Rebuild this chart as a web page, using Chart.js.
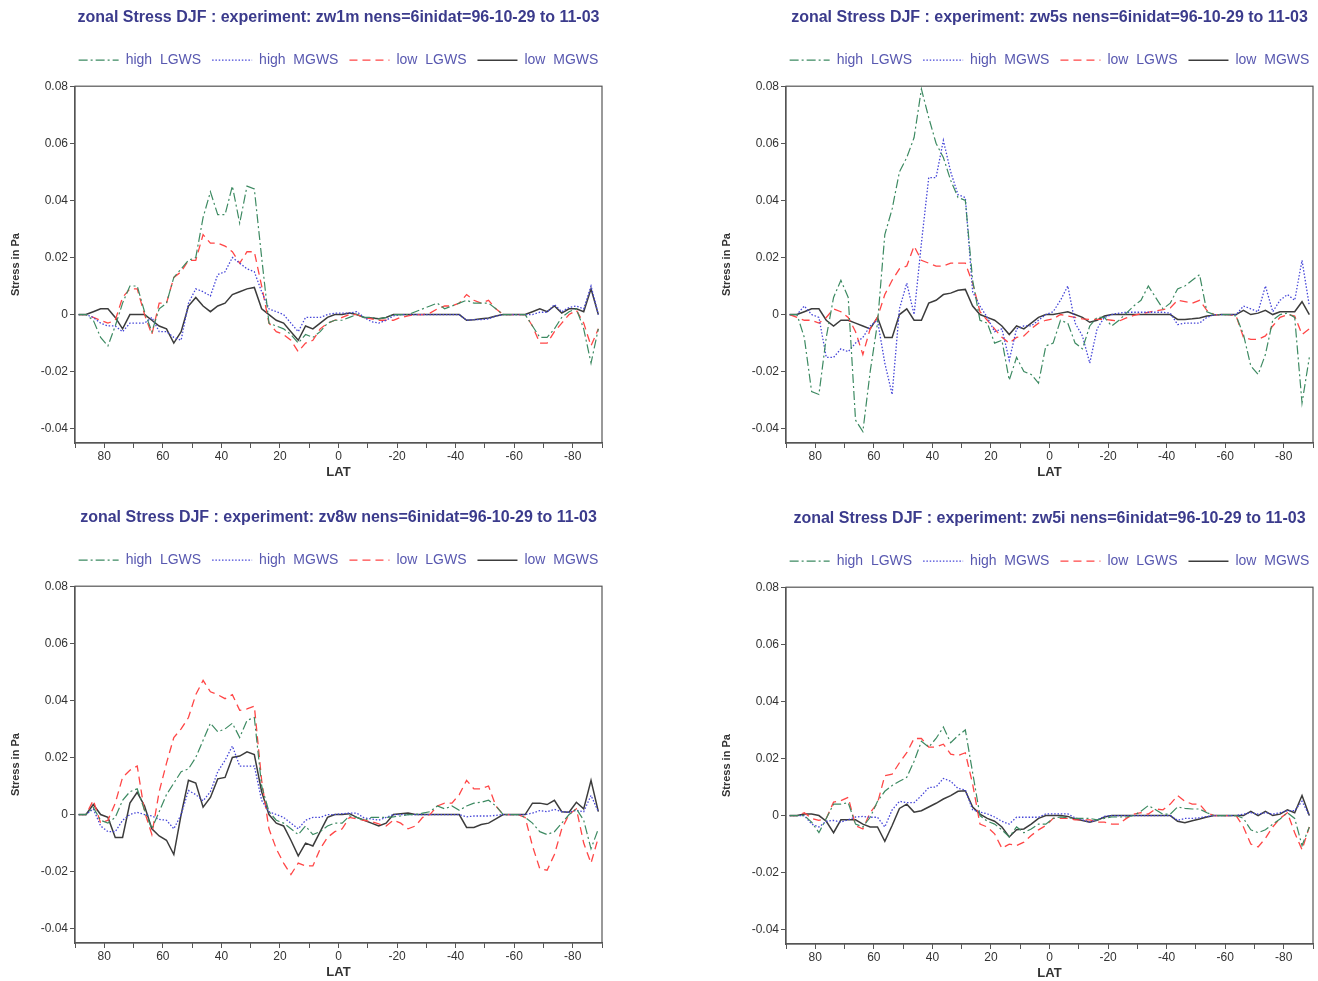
<!DOCTYPE html>
<html>
<head>
<meta charset="utf-8">
<script src="https://cdn.jsdelivr.net/npm/chart.js@4.4.1/dist/chart.umd.min.js"></script>
<style>
html, body { margin: 0; padding: 0; background: #fff; overflow: hidden; width: 1318px; height: 981px; }
.panel { position: absolute; }
</style>
</head>
<body>
<div class="panel" style="left:0;top:0"><canvas id="c1" width="677" height="485"></canvas></div>
<div class="panel" style="left:711px;top:0"><canvas id="c2" width="677" height="485"></canvas></div>
<div class="panel" style="left:0;top:500px"><canvas id="c3" width="677" height="485"></canvas></div>
<div class="panel" style="left:711px;top:501px"><canvas id="c4" width="677" height="485"></canvas></div>
<script>
// latitude grid (north -> south)
const lat = [88.75, 86.25, 83.75, 81.25, 78.75, 76.25, 73.75, 71.25, 68.75, 66.25, 63.75, 61.25,
  58.75, 56.25, 53.75, 51.25, 48.75, 46.25, 43.75, 41.25, 38.75, 36.25, 33.75, 31.25,
  28.75, 26.25, 23.75, 21.25, 18.75, 16.25, 13.75, 11.25, 8.75, 6.25, 3.75, 1.25,
  -1.25, -3.75, -6.25, -8.75, -11.25, -13.75, -16.25, -18.75, -21.25, -23.75, -26.25, -28.75,
  -31.25, -33.75, -36.25, -38.75, -41.25, -43.75, -46.25, -48.75, -51.25, -53.75, -56.25, -58.75,
  -61.25, -63.75, -66.25, -68.75, -71.25, -73.75, -76.25, -78.75, -81.25, -83.75, -86.25, -88.75]

const seriesNames = ['high  LGWS', 'high  MGWS', 'low  LGWS', 'low  MGWS']
const yTicks = [-0.04, -0.02, 0, 0.02, 0.04, 0.06, 0.08]
const xTicks = [90, 80, 70, 60, 50, 40, 30, 20, 10, 0, -10, -20, -30, -40, -50, -60, -70, -80, -90]

// zw1m
const zw1m_highLGWS = [0, 0, -0.002, -0.008, -0.011, -0.004, 0.004, 0.01, 0.01, 0.001, -0.006, 0.002,
  0.004, 0.013, 0.016, 0.019, 0.02, 0.034, 0.043, 0.035, 0.035, 0.045, 0.032, 0.045,
  0.044, 0.02, -0.003, -0.004, -0.005, -0.007, -0.01, -0.007, -0.008, -0.006, -0.003, -0.002,
  -0.002, -0.001, 0, -0.001, -0.001, -0.0015, -0.001, 0, 0, 0, 0.001, 0.002,
  0.003, 0.004, 0.002, 0.003, 0.004, 0.005, 0.004, 0.004, 0.004, 0.002, 0, 0,
  0, 0, -0.004, -0.008, -0.008, -0.005, -0.001, 0.001, 0.002, -0.005, -0.017, -0.005]
const zw1m_highMGWS = [0, 0, -0.001, -0.003, -0.004, -0.004, -0.006, -0.003, -0.003, -0.003, -0.001, -0.006,
  -0.006, -0.008, -0.009, 0.004, 0.009, 0.008, 0.0065, 0.014, 0.015, 0.02, 0.018, 0.016,
  0.015, 0.008, 0.002, 0.001, 0, -0.003, -0.006, -0.001, -0.001, -0.001, 0, 0.0005,
  0.0005, 0.0005, 0.001, -0.001, -0.0025, -0.003, -0.002, -0.0005, 0, 0, 0, 0,
  0, 0, 0, 0, 0, -0.002, -0.0018, -0.0018, -0.0015, -0.0005, 0, 0,
  0, 0, 0, 0.0008, 0.0008, 0.0035, 0.001, 0.0025, 0.003, 0.002, 0.01, 0]
const zw1m_lowLGWS = [0, 0, -0.001, -0.002, -0.003, -0.002, 0.006, 0.009, 0.009, 0, -0.007, 0.004,
  0.004, 0.013, 0.015, 0.019, 0.019, 0.028, 0.025, 0.025, 0.024, 0.022, 0.018, 0.022,
  0.022, 0.01, -0.003, -0.006, -0.007, -0.009, -0.013, -0.01, -0.009, -0.005, -0.003, -0.002,
  -0.001, 0, 0, -0.001, -0.0015, -0.002, -0.002, -0.002, -0.001, -0.0005, 0, 0,
  0.0005, 0.002, 0.003, 0.003, 0.004, 0.007, 0.005, 0.004, 0.005, 0.002, 0, 0,
  0, 0, -0.004, -0.01, -0.01, -0.006, -0.003, 0, 0.0015, -0.003, -0.011, -0.005]
const zw1m_lowMGWS = [0, 0, 0.001, 0.002, 0.002, -0.001, -0.005, 0, 0, 0, -0.002, -0.004,
  -0.005, -0.01, -0.006, 0.003, 0.006, 0.003, 0.001, 0.003, 0.004, 0.007, 0.008, 0.009,
  0.0095, 0.002, 0, -0.002, -0.003, -0.006, -0.009, -0.004, -0.005, -0.003, -0.001, 0,
  0, 0.0005, 0, -0.001, -0.0012, -0.0015, -0.001, 0, 0, 0, 0, 0,
  0, 0, 0, 0, 0, -0.002, -0.0018, -0.0015, -0.0012, -0.0005, 0, 0,
  0, 0, 0.001, 0.002, 0.001, 0.003, 0.0005, 0.002, 0.002, 0.001, 0.009, 0]

// zw5s
const zw5s_highLGWS = [0, 0, -0.008, -0.027, -0.028, -0.008, 0.006, 0.012, 0.006, -0.037, -0.041, -0.02,
  -0.003, 0.028, 0.037, 0.05, 0.055, 0.062, 0.079, 0.069, 0.06, 0.055, 0.047, 0.041,
  0.04, 0.012, -0.002, -0.003, -0.01, -0.009, -0.023, -0.015, -0.02, -0.021, -0.024, -0.011,
  -0.01, -0.002, -0.003, -0.01, -0.012, -0.004, -0.001, -0.001, -0.004, -0.002, 0.0005, 0.003,
  0.005, 0.01, 0.006, 0.002, 0.004, 0.009, 0.01, 0.012, 0.014, 0.001, 0, 0,
  0, -0.0005, -0.007, -0.018, -0.021, -0.014, -0.002, 0, 0.0005, -0.001, -0.031, -0.015]
const zw5s_highMGWS = [0, 0, 0.003, 0, -0.001, -0.015, -0.015, -0.012, -0.013, -0.01, -0.008, -0.004,
  -0.002, -0.017, -0.028, 0.002, 0.011, 0, 0.025, 0.048, 0.048, 0.061, 0.05, 0.042,
  0.041, 0.008, 0.003, -0.001, -0.006, -0.005, -0.016, -0.005, -0.004, -0.004, -0.002, 0,
  0.001, 0.005, 0.01, -0.003, -0.0075, -0.017, -0.005, -0.001, 0, 0.0005, 0.0008, 0.0008,
  0.0008, 0.0008, 0.0008, 0.0008, 0.0005, -0.0035, -0.003, -0.003, -0.003, -0.001, 0, 0,
  0, 0, 0.003, 0.002, 0.001, 0.01, 0.001, 0.005, 0.007, 0.005, 0.019, 0.003]
const zw5s_lowLGWS = [0, -0.001, -0.002, -0.002, -0.003, -0.001, 0.002, 0.001, -0.001, -0.006, -0.014, -0.005,
  -0.001, 0.007, 0.012, 0.016, 0.017, 0.024, 0.019, 0.018, 0.017, 0.017, 0.018, 0.018,
  0.018, 0.011, 0.001, -0.002, -0.005, -0.008, -0.01, -0.008, -0.0075, -0.005, -0.003, -0.002,
  -0.0015, 0, -0.0005, -0.001, -0.0015, -0.0017, -0.0017, -0.0017, -0.002, -0.0023, -0.0012, -0.0003,
  0.0003, 0.0008, 0.0013, 0.0017, 0.0023, 0.005, 0.0045, 0.004, 0.005, 0.0015, 0, 0,
  0, -0.0005, -0.008, -0.0087, -0.0087, -0.0075, -0.004, -0.001, 0, -0.0005, -0.007, -0.005]
const zw5s_lowMGWS = [0, 0, 0.001, 0.002, 0.002, -0.002, -0.004, -0.002, -0.002, -0.003, -0.004, -0.005,
  -0.001, -0.008, -0.008, 0, 0.002, -0.002, -0.002, 0.004, 0.005, 0.007, 0.0075, 0.0085,
  0.0088, 0.003, 0, -0.001, -0.002, -0.004, -0.007, -0.004, -0.005, -0.003, -0.001, 0,
  0, 0.0005, 0.001, 0, -0.001, -0.0027, -0.002, -0.0005, 0, 0, 0, 0,
  0, 0, 0, 0, 0, -0.0017, -0.0017, -0.0015, -0.0012, -0.0005, -0.0002, 0,
  0, 0, 0.0015, 0, 0.0005, 0.0015, 0, 0.001, 0.001, 0.001, 0.0045, 0]

// zv8w
const zv8w_highLGWS = [0, 0, 0.0025, -0.002, -0.003, -0.001, 0.005, 0.008, 0.009, 0.0015, -0.005, 0.001,
  0.007, 0.011, 0.015, 0.016, 0.02, 0.026, 0.032, 0.029, 0.03, 0.032, 0.027, 0.033,
  0.034, 0.01, 0.001, -0.002, -0.003, -0.005, -0.007, -0.004, -0.007, -0.006, -0.004, -0.003,
  -0.003, -0.0005, -0.001, -0.002, -0.001, -0.001, -0.001, -0.0008, -0.0005, 0, 0, 0.0005,
  0.001, 0.003, 0.002, 0.003, 0.0015, 0.003, 0.004, 0.0043, 0.005, 0.003, 0, 0,
  0, -0.001, -0.003, -0.006, -0.007, -0.006, -0.003, 0, 0.002, -0.002, -0.012, -0.005]
const zv8w_highMGWS = [0, 0, 0.002, -0.004, -0.006, -0.006, -0.002, 0, 0.0008, 0, -0.0005, -0.0017,
  -0.002, -0.005, 0, 0.0084, 0.007, 0.0048, 0.008, 0.015, 0.019, 0.024, 0.017, 0.017,
  0.017, 0.005, 0.001, 0, -0.001, -0.003, -0.005, -0.002, -0.001, -0.001, 0, 0,
  0.0003, 0.0005, 0.0005, -0.0012, -0.0015, -0.002, -0.001, 0, 0, 0, 0, 0,
  0, 0, 0, 0, 0, -0.0008, -0.0005, -0.0005, -0.0005, -0.0003, 0, 0,
  0, 0, 0.0005, 0.0014, 0.001, 0.0018, 0.001, 0.0008, 0.0015, 0.001, 0.0067, 0.001]
const zv8w_lowLGWS = [0, 0, 0.005, -0.003, -0.002, 0.004, 0.013, 0.0155, 0.017, 0.001, -0.007, 0.008,
  0.018, 0.027, 0.03, 0.034, 0.042, 0.047, 0.043, 0.042, 0.0406, 0.042, 0.0365, 0.037,
  0.038, 0.012, -0.005, -0.012, -0.017, -0.021, -0.017, -0.018, -0.018, -0.012, -0.008, -0.006,
  -0.005, -0.001, -0.0015, -0.002, -0.0025, -0.0033, -0.004, -0.002, -0.003, -0.005, -0.004, -0.001,
  0, 0.003, 0.004, 0.004, 0.007, 0.012, 0.009, 0.009, 0.01, 0.003, 0, 0,
  0, -0.001, -0.011, -0.019, -0.0195, -0.014, -0.005, 0, 0.002, -0.01, -0.017, -0.008]
const zv8w_lowMGWS = [0, 0, 0.0035, 0, -0.001, -0.008, -0.008, 0.004, 0.0078, 0.003, -0.005, -0.0075,
  -0.009, -0.014, 0, 0.012, 0.011, 0.0026, 0.006, 0.0125, 0.013, 0.02, 0.0205, 0.022,
  0.021, 0.008, 0, -0.003, -0.004, -0.009, -0.0145, -0.01, -0.011, -0.006, -0.001, 0,
  0, 0.0003, -0.001, -0.002, -0.003, -0.004, -0.003, 0, 0.0003, 0.0005, 0, 0,
  0, 0, 0, 0, 0, -0.0045, -0.0045, -0.0035, -0.003, -0.0015, 0, 0,
  0, 0, 0.004, 0.004, 0.0035, 0.005, 0.001, 0.0008, 0.0043, 0.002, 0.012, 0.001]

// zw5i
const zw5i_highLGWS = [0, 0, 0, -0.0023, -0.006, -0.001, 0.004, 0.004, 0.0045, -0.003, -0.004, -0.0006,
  0.005, 0.0085, 0.0105, 0.012, 0.0134, 0.019, 0.026, 0.024, 0.027, 0.031, 0.0255, 0.028,
  0.03, 0.015, 0, -0.002, -0.003, -0.005, -0.0075, -0.004, -0.006, -0.0047, -0.003, -0.003,
  -0.001, -0.0005, -0.0008, -0.001, -0.001, -0.001, -0.0015, -0.001, -0.0005, -0.0005, -0.0005, 0,
  0.0015, 0.0035, 0.002, 0.0005, 0.0005, 0.003, 0.0025, 0.0023, 0.0023, 0.001, 0, 0,
  0, 0, -0.001, -0.005, -0.006, -0.005, -0.003, -0.0012, 0.001, -0.001, -0.0105, -0.004]
const zw5i_highMGWS = [0, 0, 0, -0.003, -0.004, -0.002, -0.0017, -0.0023, -0.0015, -0.0005, -0.0003, -0.0006,
  -0.0006, -0.004, 0.002, 0.005, 0.0045, 0.0045, 0.007, 0.0098, 0.01, 0.013, 0.012, 0.0095,
  0.009, 0.002, 0.0012, 0.0006, -0.0005, -0.002, -0.003, -0.0006, -0.0006, -0.0006, -0.0006, 0.0006,
  0.0006, 0.0006, 0.0006, -0.0008, -0.0015, -0.0023, -0.0015, -0.0003, 0, 0, 0, 0,
  0, 0, 0, 0, 0, -0.0017, -0.001, -0.001, -0.0008, -0.0003, 0, 0,
  0, 0, 0.0005, 0.001, 0.0005, 0.001, 0.0005, 0.001, 0.0017, 0.0017, 0.005, 0]
const zw5i_lowLGWS = [0, 0, 0.001, -0.001, -0.0017, -0.001, 0.0047, 0.0052, 0.0064, -0.0035, -0.0047, 0.001,
  0.0043, 0.014, 0.0145, 0.0185, 0.022, 0.027, 0.027, 0.024, 0.024, 0.025, 0.0215, 0.021,
  0.022, 0.011, -0.003, -0.004, -0.0064, -0.0115, -0.01, -0.0105, -0.0093, -0.007, -0.005, -0.0035,
  -0.001, -0.001, -0.001, -0.0015, -0.0015, -0.0015, -0.0023, -0.0023, -0.003, -0.003, -0.001, 0.0005,
  0.001, 0.0005, 0.0023, 0.002, 0.004, 0.007, 0.005, 0.004, 0.004, 0.001, 0, 0,
  0, 0, -0.004, -0.01, -0.011, -0.008, -0.004, -0.001, 0.001, -0.006, -0.012, -0.004]
const zw5i_lowMGWS = [0, 0, 0.0005, 0.0005, 0, -0.002, -0.006, -0.0015, -0.0015, -0.0015, -0.003, -0.004,
  -0.004, -0.009, -0.0035, 0.0025, 0.004, 0.0012, 0.0017, 0.003, 0.0043, 0.0058, 0.007, 0.0085,
  0.0087, 0.003, 0.0005, -0.001, -0.002, -0.004, -0.0075, -0.005, -0.0047, -0.003, -0.001, 0,
  0, 0, -0.0003, -0.0012, -0.0017, -0.0023, -0.0017, -0.0005, 0, 0, 0, 0,
  0, 0, 0, 0, 0, -0.002, -0.0025, -0.0018, -0.0012, -0.0005, 0, 0,
  0, 0, 0, 0.0015, 0, 0.0015, 0, 0.0005, 0.002, 0.001, 0.007, 0]

Chart.defaults.font.family = '"Liberation Sans", Arial, sans-serif'

const lineStyles = [
  { color: '#3d8a62', dash: [9, 3, 2, 3], width: 1.2 },
  { color: '#4545d8', dash: [1.5, 1.8], width: 1.3 },
  { color: '#ff4646', dash: [8, 5], width: 1.3 },
  { color: '#3c3c3c', dash: [], width: 1.5 }
]

const frame = {
  id: 'frame',
  afterDraw(chart) {
    const { ctx, chartArea: a } = chart
    ctx.save()
    ctx.strokeStyle = '#555'
    ctx.lineWidth = 1.2
    ctx.strokeRect(a.left, a.top, a.right - a.left, a.bottom - a.top)
    ctx.restore()
  }
}

// legend entries show each series' own dash pattern
const legendLabels = (chart) => {
  const items = Chart.defaults.plugins.legend.labels.generateLabels(chart)
  items.forEach((item) => {
    const ds = chart.data.datasets[item.datasetIndex]
    item.lineDash = ds.borderDash
    item.strokeStyle = ds.borderColor
    item.lineWidth = ds.borderWidth
    item.pointStyle = 'line'
  })
  return items
}

function makePanel(id, expName, series) {
  const datasets = series.map((vals, i) => ({
    label: seriesNames[i],
    data: lat.map((x, k) => ({ x, y: vals[k] })),
    borderColor: lineStyles[i].color,
    borderDash: lineStyles[i].dash,
    borderWidth: lineStyles[i].width,
    pointRadius: 0,
    tension: 0,
    fill: false
  }))
  return new Chart(document.getElementById(id), {
    type: 'line',
    data: { datasets },
    plugins: [frame],
    options: {
      responsive: false,
      animation: false,
      layout: { padding: 0 },
      plugins: {
        title: {
          display: true,
          text: 'zonal Stress DJF : experiment: ' + expName + ' nens=6inidat=96-10-29 to 11-03',
          color: '#3b3b8c',
          font: { size: 16, weight: 'bold' },
          padding: { top: 8, bottom: 15 }
        },
        legend: {
          labels: {
            usePointStyle: true,
            pointStyle: 'line',
            pointStyleWidth: 40,
            color: '#5858b0',
            font: { size: 14 },
            padding: 11,
            generateLabels: legendLabels
          }
        },
        tooltip: { enabled: false }
      },
      scales: {
        x: {
          type: 'linear',
          reverse: true,
          min: -90,
          max: 90,
          afterBuildTicks: s => { s.ticks = xTicks.map(v => ({ value: v })) },
          afterFit: s => { s.height = 42 },
          ticks: {
            autoSkip: false,
            maxRotation: 0,
            padding: 1,
            color: '#333',
            font: { size: 12 },
            callback: v => (v % 20 === 0 && Math.abs(v) < 90) ? String(v) : ''
          },
          grid: { drawOnChartArea: false, tickLength: 5, color: '#555' },
          border: { color: '#555', width: 1.2 },
          title: { display: true, text: 'LAT', color: '#333', font: { size: 13, weight: 'bold' }, padding: { top: 0, bottom: 5 } }
        },
        y: {
          min: -0.045,
          max: 0.08,
          afterBuildTicks: s => { s.ticks = yTicks.map(v => ({ value: v })) },
          afterFit: s => { s.width = 75 },
          ticks: {
            padding: 2,
            color: '#333',
            font: { size: 12 },
            callback: v => v === 0 ? '0' : v.toFixed(2)
          },
          grid: { drawOnChartArea: false, tickLength: 5, color: '#555' },
          border: { color: '#555', width: 1.2 },
          title: { display: true, text: 'Stress in Pa', color: '#333', font: { size: 11, weight: 'bold' }, padding: { top: 9, bottom: 0 } }
        },
        xTop: {
          type: 'linear',
          position: 'top',
          afterFit: s => { s.height = 9 },
          ticks: { display: false },
          grid: { display: false },
          border: { display: false }
        },
        yRight: {
          type: 'linear',
          position: 'right',
          afterFit: s => { s.width = 75 },
          ticks: { display: false },
          grid: { display: false },
          border: { display: false }
        }
      }
    }
  })
}

makePanel('c1', 'zw1m', [zw1m_highLGWS, zw1m_highMGWS, zw1m_lowLGWS, zw1m_lowMGWS])
makePanel('c2', 'zw5s', [zw5s_highLGWS, zw5s_highMGWS, zw5s_lowLGWS, zw5s_lowMGWS])
makePanel('c3', 'zv8w', [zv8w_highLGWS, zv8w_highMGWS, zv8w_lowLGWS, zv8w_lowMGWS])
makePanel('c4', 'zw5i', [zw5i_highLGWS, zw5i_highMGWS, zw5i_lowLGWS, zw5i_lowMGWS])
</script>
</body>
</html>
